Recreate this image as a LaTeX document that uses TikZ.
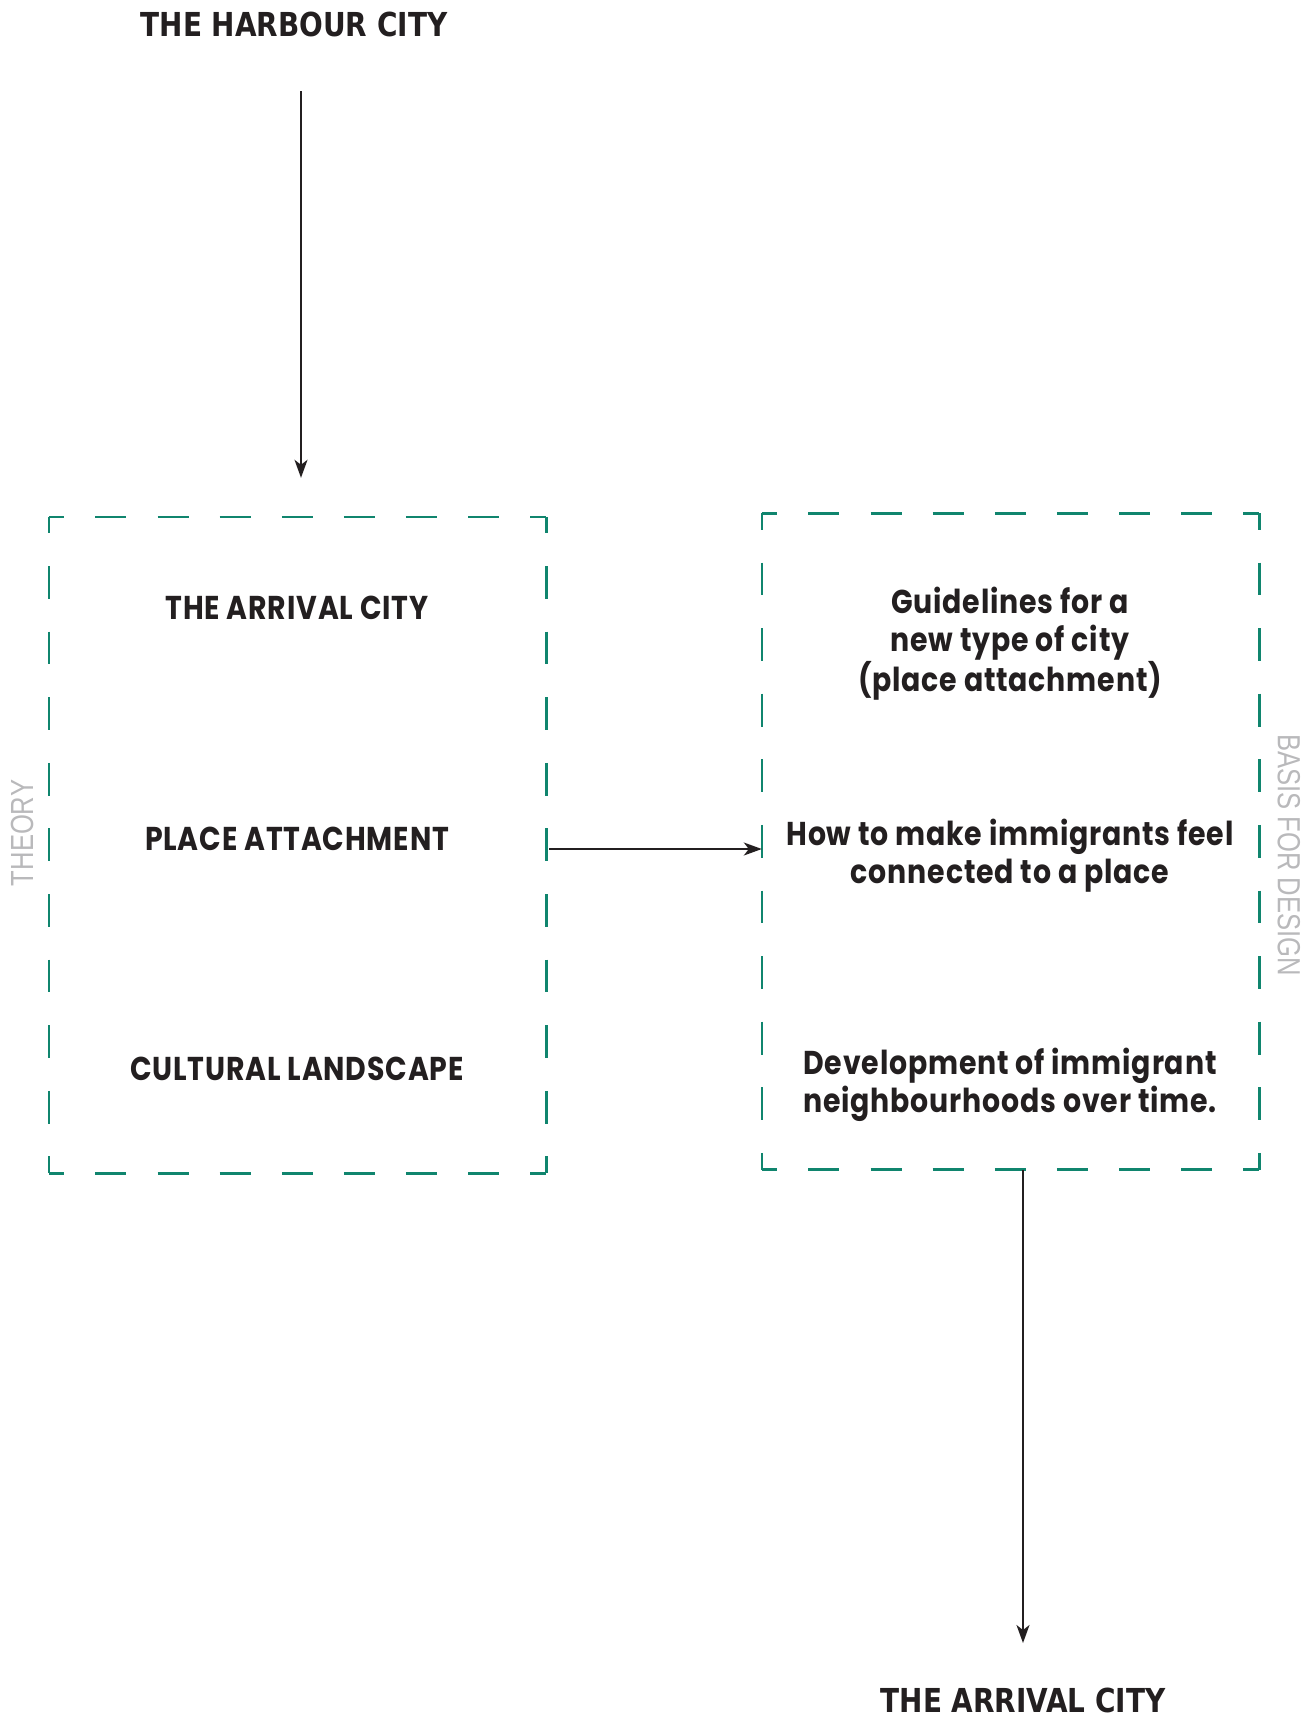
\documentclass[tikz,border=0pt]{standalone}
\usepackage{fontspec}
\usetikzlibrary{arrows.meta}
\newfontfamily\headfont[FakeStretch=0.94]{DejaVu Sans Condensed}
\newfontfamily\boxfont[FakeStretch=0.86,LetterSpace=2.5]{Poppins Bold}
\newfontfamily\sidefont[FakeStretch=0.8]{Liberation Sans}
\definecolor{boxgreen}{RGB}{16,133,110}
\definecolor{inkblack}{RGB}{35,31,32}
\definecolor{sidegrey}{RGB}{185,185,187}
\tikzstyle{dashedboxes}=[%
	framebox/.style={%
		draw=none,
		inner sep=0pt,
		minimum width=497pt,
		minimum height=656pt
	},
	dashH/.style={%
		draw=boxgreen,
		line width=2.6pt,
		dash pattern=on 31.06pt off 31.06pt,
		dash phase=15.53pt
	},
	dashV/.style={%
		draw=boxgreen,
		line width=2.6pt,
		dash pattern=on 32.8pt off 32.8pt,
		dash phase=16.4pt
	}
]
\begin{document}
\begin{tikzpicture}[
	x=1pt, y=-1pt,
	dashedboxes,
	header/.style={text=inkblack, font=\headfont\bfseries\fontsize{33}{38}\selectfont},
	item/.style={text=inkblack, align=center, font=\boxfont\fontsize{33}{38.4}\selectfont},
	side/.style={text=sidegrey, font=\sidefont\fontsize{32}{36}\selectfont},
	link/.style={draw=inkblack, line width=1.8pt, -{Stealth[length=18pt,width=13pt,inset=5pt]}}
]
	\useasboundingbox (0,0) rectangle (1315,1719);

	\node[header] (harbour) at (294,24) {THE HARBOUR CITY};
	\node[header] (arrival) at (1023,1700) {THE ARRIVAL CITY};

	\node[framebox] (theory) at (297.5,845) {};
	\node[framebox] (design) at (1010.5,841.5) {};

	\foreach \b in {theory, design} {
		\draw[dashH] (\b.north west) -- (\b.north east);
		\draw[dashH] (\b.south west) -- (\b.south east);
		\draw[dashV] (\b.north west) -- (\b.south west);
		\draw[dashV] (\b.north east) -- (\b.south east);
	}

	\node[side, rotate=90] (theoryLabel) at (22,833) {THEORY};
	\node[side, rotate=-90] (designLabel) at (1289,855) {BASIS FOR DESIGN};

	\node[item] (arrivalCity) at (297,607.5) {THE ARRIVAL CITY};
	\node[item] (placeAtt) at (297,839) {PLACE ATTACHMENT};
	\node[item] (landscape) at (297,1069) {CULTURAL LANDSCAPE};

	\node[item] (guidelines) at (1010,643.5) {Guidelines for a\\new type of city\\(place attachment)};
	\node[item] (feelConnected) at (1010,855.5) {How to make immigrants feel\\connected to a place};
	\node[item] (development) at (1010,1085) {Development of immigrant\\neighbourhoods over time.};

	\coordinate (harbourOut) at (301,91);
	\coordinate (arrivalIn) at (1023,1643);

	\draw[link, shorten >=39pt] (harbourOut) -- (harbourOut |- theory.north);
	\draw[link, shorten <=3pt] ([yshift=-4pt]theory.east) -- ([yshift=-4pt]theory.east -| design.west);
	\draw[link] (design.south -| arrivalIn) -- (arrivalIn);
\end{tikzpicture}
\end{document}
